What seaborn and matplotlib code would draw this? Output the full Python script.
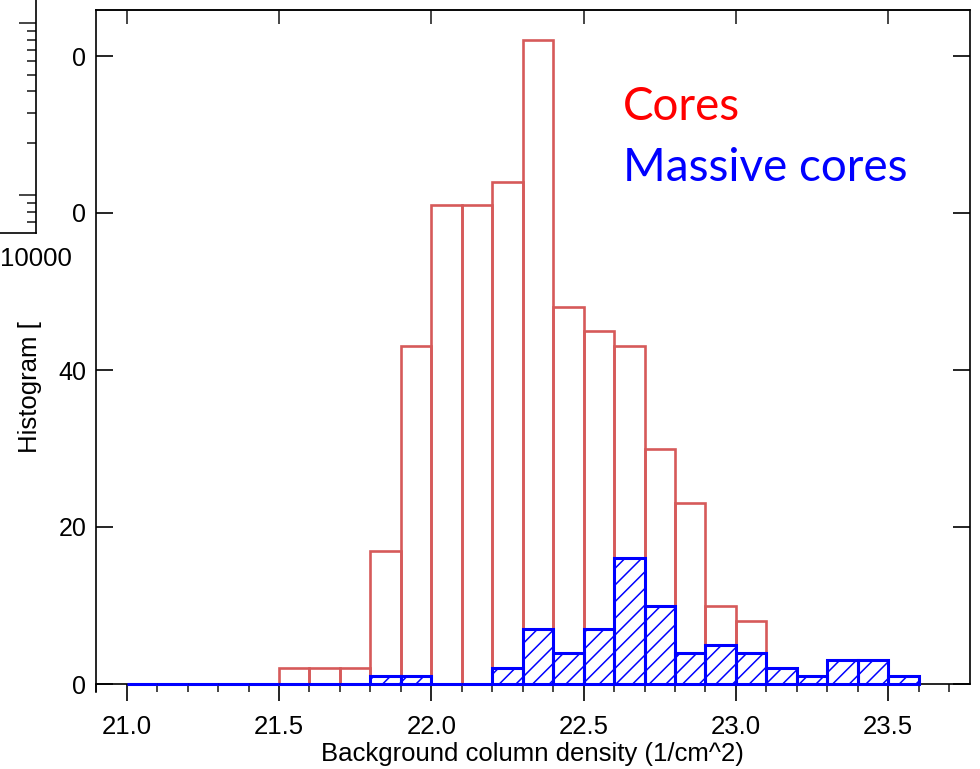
import numpy as np
import pandas as pd
import matplotlib
matplotlib.use("Agg")
import matplotlib.pyplot as plt
from matplotlib.ticker import MultipleLocator, LogLocator, NullFormatter, FixedLocator
import seaborn as sns

# ---------------- data ----------------
bin_width = 0.1
cores_start = 21.5
cores_counts = [2, 2, 2, 17, 43, 61, 61, 64, 82, 48, 45, 43, 30, 23, 10, 8]
massive_start = 21.0
massive_counts = [0, 0, 0, 0, 0, 0, 0, 0, 1, 1, 0, 0, 2, 7, 4, 7, 16, 10, 4, 5, 4,
                  2, 1, 3, 3, 1]
x_ticks = [21.0, 21.5, 22.0, 22.5, 23.0, 23.5]
x_ticklabels = ["21.0", "21.5", "22.0", "22.5", "23.0", "23.5"]
y_ticks = [0, 20, 40, 60, 80]
y_ticklabels = ["0", "20", "40", "0", "0"]
legend_labels = ["Cores", "Massive cores"]

red = "#d65a5a"
blue = "#0000ff"

sns.set_theme(style="white")
plt.rcParams["font.family"] = ["Liberation Sans", "DejaVu Sans"]
plt.rcParams["hatch.linewidth"] = 1.1

W, H = 980, 769
fig = plt.figure(figsize=(W / 100, H / 100), dpi=100)
fig.patch.set_facecolor("white")

def fx(px):
    return px / W

def fy(py):
    return 1 - py / H

# ---------------- main axes ----------------
y0_px, yunit = 684.0, 7.85
ax_left, ax_right, ax_top = 96, 969.5, 10
ymin = -1.0
ymax = (y0_px - ax_top) / yunit
ax_bottom_px = y0_px - ymin * yunit
ax = fig.add_axes([fx(ax_left), fy(ax_bottom_px), fx(ax_right - ax_left),
                   (ax_bottom_px - ax_top) / H])
ax.set_facecolor("white")

c_edges = [round(cores_start + bin_width * i, 2) for i in range(len(cores_counts) + 1)]
m_edges = [round(massive_start + bin_width * i, 2) for i in range(len(massive_counts) + 1)]
df_c = pd.DataFrame({"x": [e + bin_width / 2 for e in c_edges[:-1]],
                     "w": np.asarray(cores_counts, dtype=float)})
df_m = pd.DataFrame({"x": [e + bin_width / 2 for e in m_edges[:-1]],
                     "w": np.asarray(massive_counts, dtype=float)})

sns.histplot(data=df_c, x="x", weights="w", bins=c_edges, fill=False,
             element="bars", color=red, linewidth=1.9, ax=ax, zorder=2)
sns.histplot(data=df_m, x="x", weights="w", bins=m_edges, fill=False,
             element="bars", color=blue, linewidth=2.2, hatch="//", ax=ax, zorder=3)

x_lo = 21.0 - (126.7 - ax_left) / 304.6
x_hi = 21.0 + (ax_right - 126.7) / 304.6
ax.set_xlim(x_lo, x_hi)
ax.set_ylim(ymin, ymax)

for s in ax.spines.values():
    s.set_color("black")
    s.set_linewidth(1.2)
    s.set_visible(True)
ax.spines["bottom"].set_position(("data", 0))
ax.spines["right"].set_bounds(0, ymax)

ax.set_xticks(x_ticks)
ax.set_xticklabels(x_ticklabels)
ax.xaxis.set_minor_locator(MultipleLocator(0.1))
ax.tick_params(axis="x", which="major", direction="out", length=12, width=1.2,
               labelsize=18.5, pad=10.5, colors="black", bottom=True, top=False)
ax.tick_params(axis="x", which="minor", direction="out", length=6, width=1.2,
               bottom=True, top=False)
ax.set_yticks(y_ticks)
ax.set_yticklabels(y_ticklabels)
ax.tick_params(axis="y", which="major", direction="in", length=12, width=1.2,
               labelsize=18, pad=7, left=True, right=True, colors="black")

sec = ax.secondary_xaxis("top")
sec.set_xticks(x_ticks)
sec.tick_params(direction="in", length=10, width=1.2, labeltop=False)
sec.spines["top"].set_linewidth(1.2)

ax.set_xlabel("Background column density (1/cm^2)", fontsize=18.5, labelpad=2,
              color="black")
ax.set_ylabel("")

fig.text(fx(30), fy(387), "Histogram [", rotation=90, fontsize=18.5,
         ha="center", va="center", color="black")

ax.text(0.603, 0.858, legend_labels[0], transform=ax.transAxes, color="#ff0000",
        fontsize=33, family=["Lato", "DejaVu Sans"], ha="left", va="center")
ax.text(0.603, 0.768, legend_labels[1], transform=ax.transAxes, color=blue,
        fontsize=33, family=["Lato", "DejaVu Sans"], ha="left", va="center")

# ---------------- partial neighbouring panel on the left ----------------
dec_x = 210.0
dec_y = 172.0
lp_bottom, lp_top = 233, -50
lax = fig.add_axes([fx(36 - dec_x), fy(lp_bottom), fx(dec_x),
                    (lp_bottom - lp_top) / H])
lax.set_facecolor("white")
lax.set_xscale("log")
lax.set_yscale("log")
lax.set_xlim(1000, 10000)
y_lo = 3 - (lp_bottom - 195) / dec_y
y_hi = 4 + (23 - lp_top) / dec_y
lax.set_ylim(10 ** y_lo, 10 ** y_hi)
for k in ["top", "left"]:
    lax.spines[k].set_visible(False)
for k in ["right", "bottom"]:
    lax.spines[k].set_visible(True)
    lax.spines[k].set_color("black")
    lax.spines[k].set_linewidth(1.2)
lax.xaxis.set_major_locator(FixedLocator([10000]))
lax.set_xticklabels(["10000"])
lax.xaxis.set_minor_locator(LogLocator(base=10, subs=np.arange(2, 10)))
lax.xaxis.set_minor_formatter(NullFormatter())
lax.tick_params(axis="x", which="major", direction="in", length=0, labelsize=18.5,
                pad=10, colors="black")
lax.tick_params(axis="x", which="minor", direction="in", length=4, width=1.2)
lax.yaxis.set_major_locator(LogLocator(base=10))
lax.yaxis.set_minor_locator(LogLocator(base=10, subs=np.arange(2, 10)))
lax.yaxis.set_minor_formatter(NullFormatter())
lax.tick_params(axis="y", which="major", direction="in", length=12, width=1.2,
                left=False, right=True, labelleft=False, labelright=False)
lax.tick_params(axis="y", which="minor", direction="in", length=6.5, width=1.2,
                left=False, right=True, labelleft=False, labelright=False)
lax.grid(False)
ax.grid(False)

fig.savefig("out.png", dpi=100, facecolor="white")
